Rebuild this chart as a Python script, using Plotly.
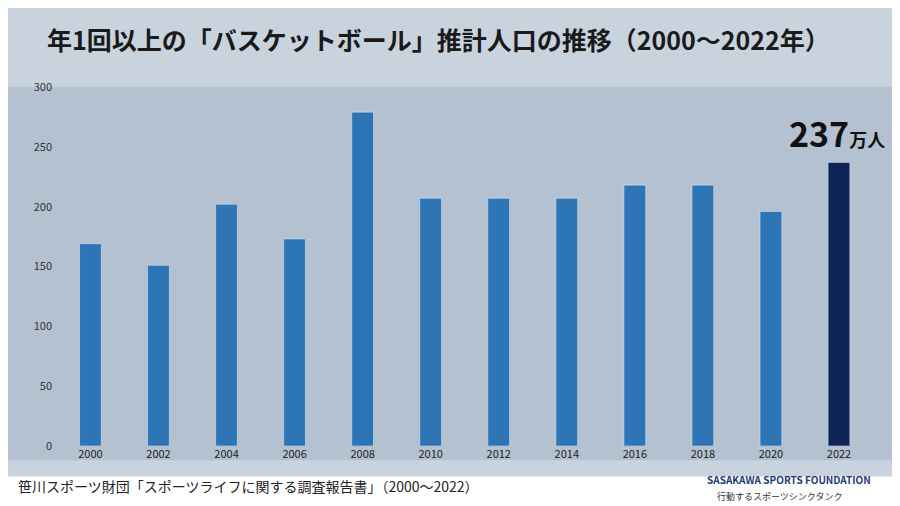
import plotly.graph_objects as go

years = ["2000","2002","2004","2006","2008","2010","2012","2014","2016","2018","2020","2022"]
values = [169,151,202,173,279,207,207,207,218,218,196,237]
colors = ["#2e75b6"]*11 + ["#0f2456"]
idx = list(range(len(years)))

fig = go.Figure(go.Bar(x=idx, y=values, marker_color=colors, width=0.32))
fig.update_layout(
    width=900, height=506, margin=dict(l=45, r=35, t=79, b=68),
    paper_bgcolor="#c9d3de", plot_bgcolor="rgba(0,0,0,0)", showlegend=False,
    font=dict(family="Noto Sans CJK JP", color="#222"),
    xaxis=dict(tickmode="array", tickvals=idx, ticktext=years, range=[-0.55, 11.5],
               tickfont=dict(size=11, color="#222"), showline=False, ticks="", showgrid=False, zeroline=False),
    yaxis=dict(range=[0,300], dtick=50, showgrid=False, zeroline=False, tickfont=dict(size=11, color="#333")),
    shapes=[
        dict(type="rect", xref="paper", yref="paper", x0=-0.06, x1=1.05, y0=-0.04, y1=1.0, layer="below",
             fillcolor="#b3c1d0", line_width=0),
        dict(type="rect", xref="paper", yref="paper", x0=-0.06, x1=1.05, y0=-0.2, y1=-0.085, layer="below",
             fillcolor="#ffffff", line_width=0),
    ],
    annotations=[
        dict(text="<b>年1回以上の「バスケットボール」推計人口の推移（2000～2022年）</b>", xref="paper", yref="paper",
             x=0.47, y=1.19, showarrow=False, font=dict(size=25, color="#1a1a1a")),
        dict(text="<b>237</b><span style='font-size:18px'><b>万人</b></span>", x=idx[-1], y=values[-1], yshift=30,
             xshift=-2, xanchor="center", showarrow=False, font=dict(size=34, color="#111")),
        dict(text="笹川スポーツ財団「スポーツライフに関する調査報告書」（2000～2022）", xref="paper", yref="paper",
             x=-0.045, y=-0.145, xanchor="left", showarrow=False, font=dict(size=14, color="#222")),
        dict(text="<b>SASAKAWA SPORTS FOUNDATION</b>", xref="paper", yref="paper",
             x=1.0, y=-0.12, xanchor="right", showarrow=False, font=dict(size=10, color="#1f3a7a")),
        dict(text="行動するスポーツシンクタンク", xref="paper", yref="paper",
             x=0.965, y=-0.165, xanchor="right", showarrow=False, font=dict(size=9, color="#333")),
    ],
)
fig.write_html("out.html")
